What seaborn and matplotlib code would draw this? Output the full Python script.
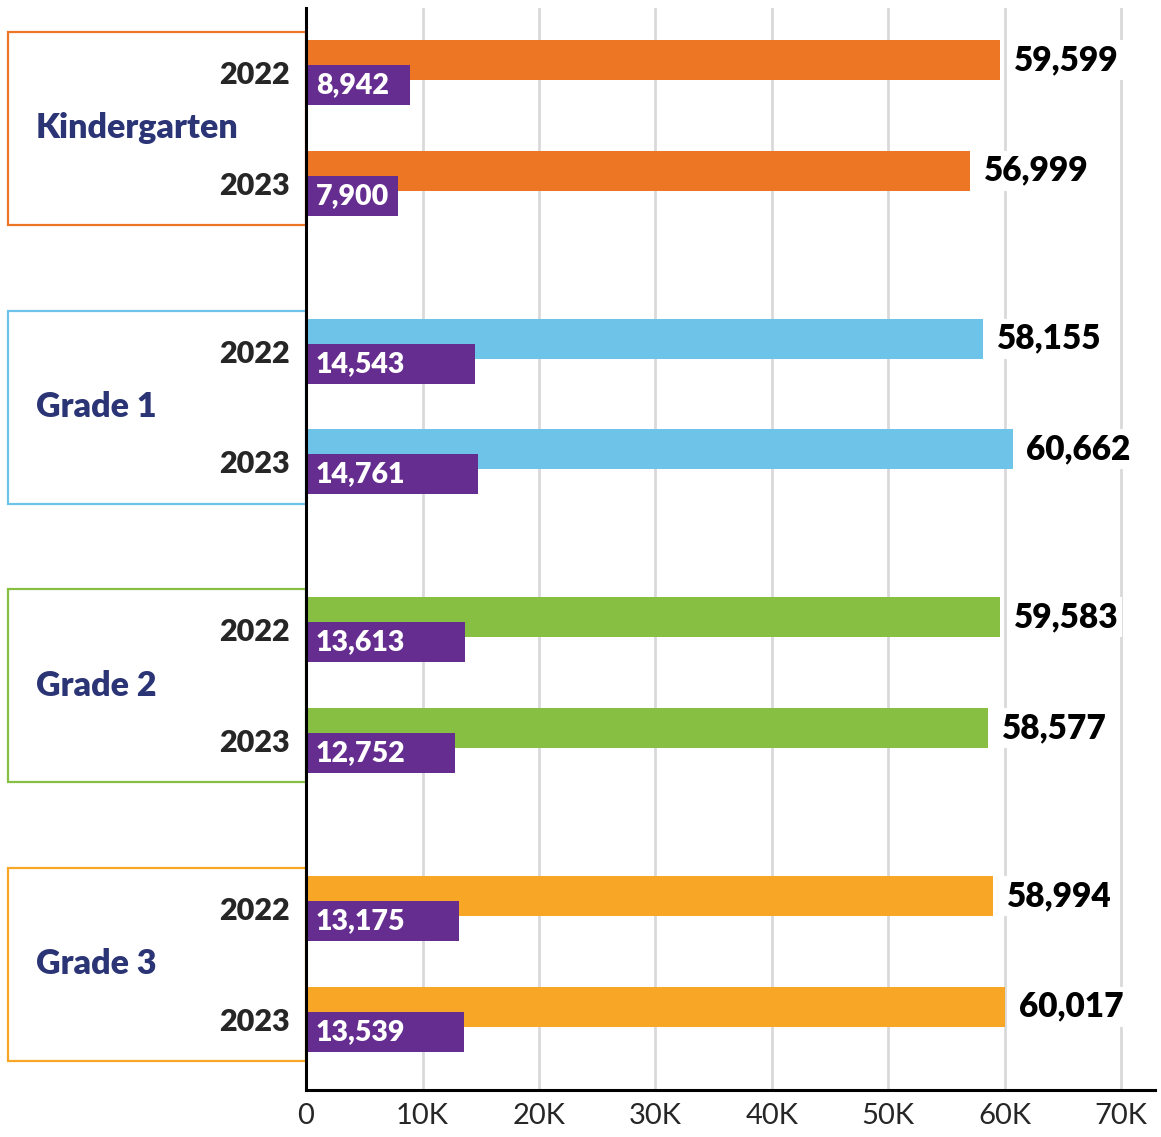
import numpy as np
import pandas as pd
import matplotlib.pyplot as plt
import matplotlib.transforms as mtransforms
from matplotlib.patches import Rectangle
import seaborn as sns

# data
grades = ["Kindergarten", "Grade 1", "Grade 2", "Grade 3"]
years = ["2022", "2023"]
totals = [59599, 56999, 58155, 60662, 59583, 58577, 58994, 60017]
subset = [8942, 7900, 14543, 14761, 13613, 12752, 13175, 13539]
x_ticks = [0, 10000, 20000, 30000, 40000, 50000, 60000, 70000]
x_tick_labels = ["0", "10K", "20K", "30K", "40K", "50K", "60K", "70K"]

grade_colors = ["#ED7625", "#6EC4E8", "#86BF41", "#F7A626"]
purple = "#662D91"
navy = "#2B3475"

sns.set_style("white")
plt.rcParams["font.family"] = ["Lato", "DejaVu Sans"]

# layout of the rows
group_step = 2.515
offset = 0.226
bar_h = 0.361

df = pd.DataFrame({
    "grade": np.repeat(grades, 2),
    "year": years * len(grades),
    "total": totals,
    "subset": subset,
})
df["pos"] = np.repeat(np.arange(len(grades)), 2) * group_step + np.tile([0, 1], len(grades))
df["pos2"] = df["pos"] + offset

fig = plt.figure(figsize=(11.61, 11.37), dpi=100)
ax = fig.add_axes([0.2636, 0.0413, 0.7313, 0.9517])

# total bars, coloured by grade
sns.barplot(data=df, x="total", y="pos", hue="grade", palette=grade_colors,
            orient="y", native_scale=True, dodge=False, width=bar_h,
            saturation=1, errorbar=None, legend=False, linewidth=0,
            ax=ax, zorder=2)
# purple bars, shifted down a bit
sns.barplot(data=df, x="subset", y="pos2", orient="y", native_scale=True,
            color=purple, width=bar_h, saturation=1, errorbar=None,
            linewidth=0, ax=ax, zorder=3)

ax.set_xlim(0, 72900)
ax.set_ylim(9.296, -0.469)
ax.set(xlabel="", ylabel="")

ax.set_xticks(x_ticks)
ax.set_xticklabels(x_tick_labels, fontsize=21)
ax.tick_params(axis="x", length=0, pad=9)

ax.set_yticks(df["pos"] + offset / 2)
ax.set_yticklabels(df["year"], fontsize=22, fontweight="heavy")
ax.tick_params(axis="y", length=0, pad=11.5)

ax.grid(axis="x", color="#D9D9D9", lw=2)
ax.grid(axis="y", visible=False)
ax.set_axisbelow(True)

for side in ["top", "right"]:
    ax.spines[side].set_visible(False)
for side in ["left", "bottom"]:
    ax.spines[side].set_color("black")
    ax.spines[side].set_linewidth(2.2)
    ax.spines[side].set_zorder(5)

# value labels
for _, row in df.iterrows():
    ax.annotate(f"{row['total']:,}", (row["total"], row["pos"]), xytext=(10, 0),
                textcoords="offset points", ha="left", va="center",
                fontsize=24, fontweight="heavy", color="black", zorder=4,
                bbox=dict(boxstyle="square,pad=0.12", fc="white", ec="none"))
    ax.annotate(f"{row['subset']:,}", (0, row["pos2"]), xytext=(7, 0),
                textcoords="offset points", ha="left", va="center",
                fontsize=20.5, fontweight="heavy", color="white", zorder=4)

# group boxes on the left
trans = mtransforms.blended_transform_factory(ax.transAxes, ax.transData)
for i, grade in enumerate(grades):
    top = i * group_step - 0.253
    ax.add_patch(Rectangle((-0.351, top), 0.351, 1.742, transform=trans,
                           fill=False, ec=grade_colors[i], lw=1.6, clip_on=False))
    ax.text(-0.318, top + 1.742 / 2, grade, transform=trans, ha="left", va="center",
            fontsize=24.5, fontweight="heavy", color=navy)

fig.savefig("out.png", dpi=100)
